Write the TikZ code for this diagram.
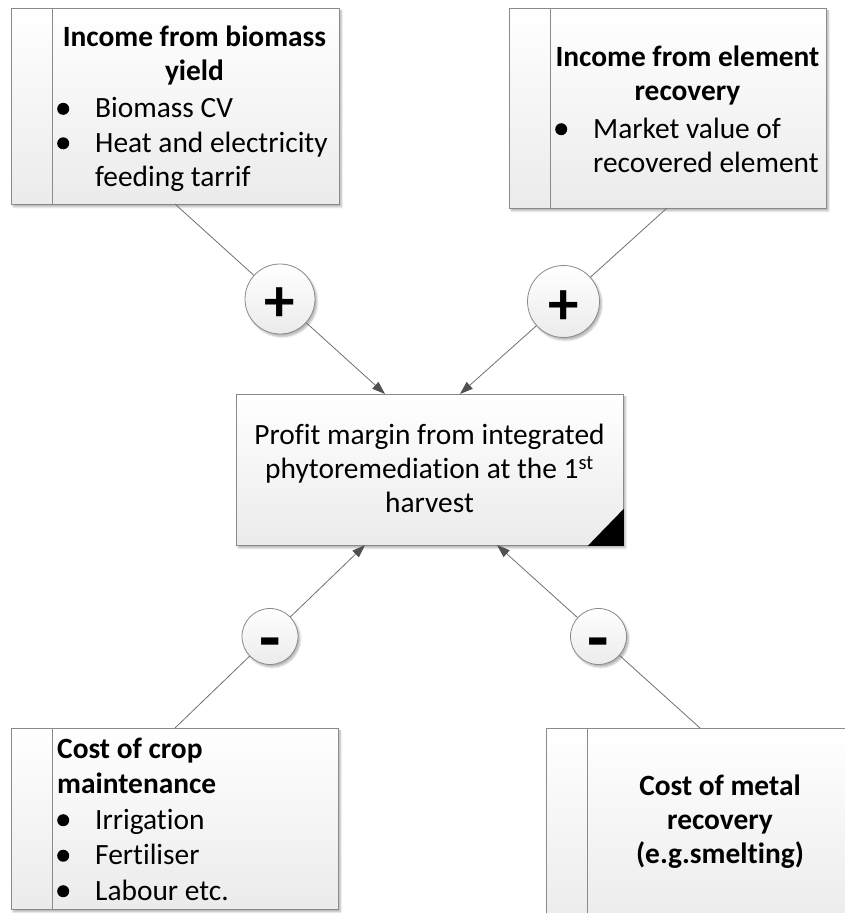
\documentclass[tikz,border=0pt]{standalone}
\usepackage{fontspec}
\setmainfont{Carlito}[Ligatures={NoCommon}, RawFeature={-liga;-clig;-dlig}]
\usetikzlibrary{arrows.meta,shadows.blur}
\definecolor{edgegray}{HTML}{8A8A8A}
\definecolor{linegray}{HTML}{707070}
\definecolor{fillbot}{HTML}{EBEBEB}
\definecolor{tipgray}{HTML}{505050}
\newcommand{\blt}{\makebox[38pt][l]{\raisebox{3pt}{\tikz\fill (0,0) circle (6pt);}}}
\newcommand{\ind}{\hspace*{38pt}}
\tikzset{
  card/.style={rectangle, draw=edgegray, line width=0.8pt, top color=white, bottom color=fillbot,
    inner sep=0pt, anchor=north west,
    blur shadow={shadow xshift=2pt, shadow yshift=-2.5pt, shadow blur steps=6, shadow opacity=30},
    path picture={\draw[edgegray, line width=0.8pt]
      ([xshift=41pt]path picture bounding box.north west) --
      ([xshift=41pt]path picture bounding box.south west);}},
  mainbox/.style={rectangle, draw=edgegray, line width=0.8pt, top color=white, bottom color=fillbot,
    inner sep=0pt, anchor=north west,
    blur shadow={shadow xshift=2pt, shadow yshift=-2.5pt, shadow blur steps=6, shadow opacity=30}},
  sign/.style={circle, draw=edgegray, line width=0.8pt, top color=white, bottom color=fillbot,
    inner sep=0pt, text=black, text height=0pt, text depth=0pt,
    blur shadow={shadow xshift=2pt, shadow yshift=-2.5pt, shadow blur steps=6, shadow opacity=30}},
  plussign/.style={sign, font=\fontsize{61}{61}\selectfont\bfseries},
  minussign/.style={sign, font=\fontsize{70}{70}\selectfont\bfseries},
  txt/.style={inner sep=0pt, text=black, font=\fontsize{29.4}{34.5}\selectfont},
  btxt/.style={inner sep=0pt, text=black, font=\fontsize{29.4}{34}\selectfont\bfseries},
  conn/.style={draw=linegray, line width=0.8pt},
  arr/.style={conn, -{Triangle[length=13pt,width=9pt,fill=tipgray,color=tipgray]}}
}
\begin{document}
\begin{tikzpicture}[x=1pt, y=-1pt]
\useasboundingbox (0,0) rectangle (844,913);

% boxes
\node[card, minimum width=328pt, minimum height=196pt] (tlbox) at (11,8) {};
\node[card, minimum width=317pt, minimum height=200pt] (trbox) at (509,8) {};
\node[card, minimum width=327pt, minimum height=181pt] (blbox) at (11,728) {};
\node[card, minimum width=320pt, minimum height=200pt] (brbox) at (546,728) {};
\node[mainbox, minimum width=387pt, minimum height=151pt] (ctr) at (236,394) {};
\fill[black] ([xshift=-36pt]ctr.south east) -- (ctr.south east) -- ([yshift=37pt]ctr.south east) -- cycle;

% texts
\node[btxt, align=center, anchor=north] (tlt) at (194.5,25.6) {Income from biomass\\yield};
\node[txt, align=left, anchor=north west] (tll) at (57,97.4) {\blt Biomass CV\\\blt Heat and electricity\\\ind feeding tarrif};

\node[btxt, align=center, anchor=north] (trt) at (687.5,45.6) {Income from element\\recovery};
\node[txt, align=left, anchor=north west] (trl) at (555,117.6) {\blt Market value of\\\ind recovered element};

\node[txt, align=left, anchor=north west, font=\fontsize{29.4}{35.5}\selectfont] (bll) at (57,737.6)
  {\textbf{Cost of crop}\\\textbf{maintenance}\\\blt Irrigation\\\blt Fertiliser\\\blt Labour etc.};

\node[btxt, align=center, anchor=north] (brt) at (720,774.6) {Cost of metal\\recovery\\(e.g.smelting)};

\node[txt, align=center, anchor=north, font=\fontsize{29.4}{34}\selectfont] (ctt) at (429.5,423.6)
  {Profit margin from integrated\\phytoremediation at the 1\textsuperscript{st}\\harvest};

% connector end points
\coordinate (tla) at (175,204);
\coordinate (tra) at (667,208);
\coordinate (bla) at (175,728);
\coordinate (bra) at (700,728);
\coordinate (c1) at (385,394);
\coordinate (c2) at (460,394);
\coordinate (c3) at (365,545);
\coordinate (c4) at (497,545);

% sign circles
\node[plussign, minimum size=70pt] (p1) at (280,299) {\raisebox{-22.5pt}{+}};
\node[plussign, minimum size=72pt] (p2) at (563.5,301.5) {\raisebox{-22.5pt}{+}};
\node[minussign, minimum size=56pt] (m1) at (270,636.5) {\raisebox{-24.5pt}{-}};
\node[minussign, minimum size=56pt] (m2) at (598.5,636.5) {\raisebox{-24.5pt}{-}};

% connectors
\draw[conn] (tla) -- (p1);
\draw[arr] (p1) -- (c1);
\draw[conn] (tra) -- (p2);
\draw[arr] (p2) -- (c2);
\draw[conn] (bla) -- (m1);
\draw[arr] (m1) -- (c3);
\draw[conn] (bra) -- (m2);
\draw[arr] (m2) -- (c4);
\end{tikzpicture}
\end{document}
